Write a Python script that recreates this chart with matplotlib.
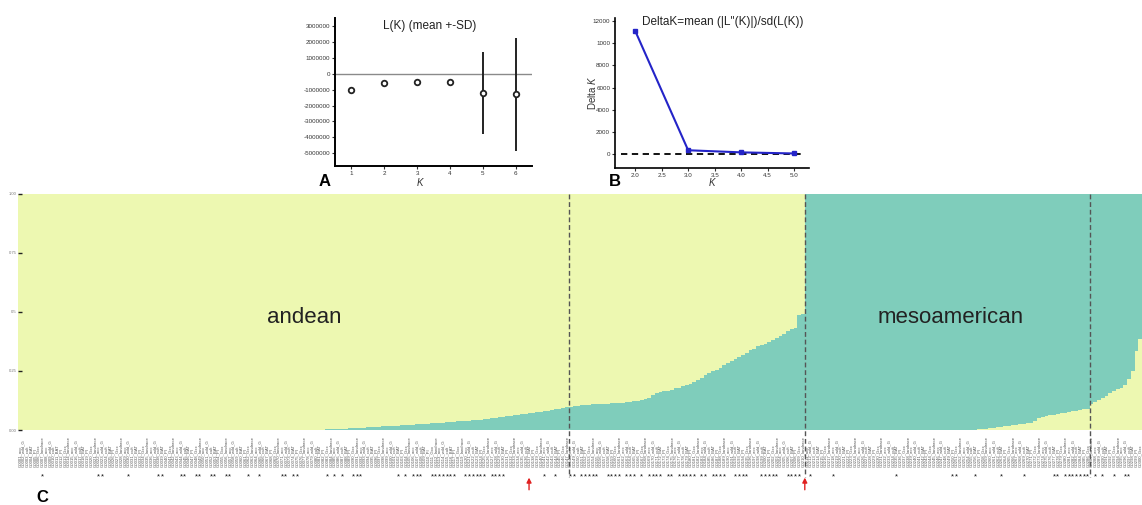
import matplotlib
matplotlib.use("Agg")
import matplotlib.pyplot as plt
import numpy as np

plt.rcParams['font.family'] = ['Liberation Sans', 'DejaVu Sans']
plt.rcParams['mathtext.fontset'] = 'custom'
plt.rcParams['mathtext.it'] = 'Liberation Sans:italic'
plt.rcParams['mathtext.rm'] = 'Liberation Sans'

# --- panel A: L(K) mean +- SD
k_a = [1, 2, 3, 4, 5, 6]
lk_mean = [-1.00e6, -0.59e6, -0.55e6, -0.50e6, -1.21e6, -1.30e6]
lk_sd = [0.02e6, 0.02e6, 0.02e6, 0.02e6, 2.57e6, 3.54e6]
lk_ticks = [-5e6, -4e6, -3e6, -2e6, -1e6, 0, 1e6, 2e6, 3e6]

# --- panel B: Delta K
k_b = [2.0, 3.0, 4.0, 5.0]
delta_k = [11120, 340, 150, 50]
dk_ticks = [0, 2000, 4000, 6000, 8000, 10000, 12000]
dk_ticklabels = ['0', '2000', '4000', '6000', '8000', '1000', '12000']
kb_ticks = [2.0, 2.5, 3.0, 3.5, 4.0, 4.5, 5.0]

# --- panel C: STRUCTURE K=2 memberships
# andean groups: mesoamerican share (bottom, teal)
andean_1 = [0.0] * 78 + [
    0.001, 0.001, 0.002, 0.002, 0.003, 0.004, 0.004, 0.005, 0.006, 0.006,
    0.007, 0.008, 0.008, 0.009, 0.010, 0.011, 0.012, 0.013, 0.014,
    0.015, 0.016, 0.017, 0.018, 0.019, 0.020, 0.021, 0.022, 0.023, 0.024,
    0.025, 0.026, 0.027, 0.028, 0.029, 0.030, 0.031, 0.033, 0.035,
    0.036, 0.037, 0.038, 0.039, 0.040, 0.041, 0.042, 0.043, 0.045, 0.047, 0.050,
    0.052, 0.054, 0.056, 0.058, 0.060, 0.062, 0.064, 0.066, 0.068, 0.070,
    0.072, 0.075, 0.078,
    0.080, 0.082, 0.084, 0.087, 0.090, 0.094, 0.098]
andean_2 = [
    0.099, 0.101, 0.103, 0.106,
    0.107, 0.108, 0.109, 0.110, 0.110, 0.111, 0.112, 0.113, 0.114, 0.115,
    0.116, 0.118, 0.120,
    0.122, 0.124, 0.127, 0.130, 0.134,
    0.148, 0.155, 0.162,
    0.164, 0.166, 0.170, 0.176, 0.180, 0.185, 0.190,
    0.196, 0.205, 0.212, 0.222, 0.232, 0.240, 0.248,
    0.255, 0.262, 0.275, 0.285, 0.293, 0.300,
    0.310, 0.318, 0.328, 0.337, 0.345, 0.354,
    0.360, 0.366, 0.372, 0.380, 0.390,
    0.398, 0.408, 0.420, 0.428, 0.434,
    0.487, 0.492]
# mesoamerican groups: andean share (bottom, yellow)
meso_1 = [0.0] * 45 + [
    0.002, 0.003, 0.005, 0.006, 0.008, 0.010, 0.012, 0.014,
    0.016, 0.018, 0.020, 0.022, 0.024, 0.026, 0.028, 0.031,
    0.040, 0.050, 0.057,
    0.060, 0.062, 0.065, 0.068, 0.070,
    0.073, 0.076, 0.079, 0.082, 0.085, 0.088, 0.091]
meso_2 = [0.112, 0.120, 0.128, 0.135, 0.145, 0.158, 0.165,
          0.172, 0.180, 0.190, 0.215, 0.250, 0.335, 0.385]

starred = [6, 21, 22, 29, 37, 38, 43, 44, 47, 48, 51, 52, 55, 56, 61, 64,
           70, 71, 73, 74, 82, 84, 86, 89, 90, 91, 101, 103, 105, 106, 107,
           110, 111, 112, 113, 114, 115, 116, 119, 120, 121, 122, 123, 124,
           126, 127, 128, 129, 140, 143, 147, 148, 150, 151, 152, 153, 154,
           157, 158, 159, 160, 162, 163, 164, 166, 168, 169, 170, 171, 173,
           174, 176, 177, 178, 179, 180, 182, 183, 185, 186, 187, 188, 191,
           192, 193, 194, 198, 199, 200, 201, 202, 205, 206, 207, 208, 211,
           217, 234, 249, 250, 255, 262, 268, 276, 277, 279, 280, 281, 282,
           283, 284, 285, 287, 289, 292, 295, 296]
arrow_at = [136.4, 210.0]
name_suffix = ['_landrace', '_acc', '_wild_G', '_cult', '_BAT', '_PI', '_Gxx']

YELLOW = '#EDF8B1'
TEAL = '#7FCDBB'

fig = plt.figure(figsize=(11.42, 5.05), dpi=100)
W, H = 1142, 505

def px_axes(l, t, r, b):
    return fig.add_axes([l / W, 1 - b / H, (r - l) / W, (b - t) / H])

# ---------- panel A
axa = px_axes(335, 18, 532, 166)
axa.axhline(0, color='#8a8a8a', lw=1.0)
axa.errorbar(k_a, lk_mean, yerr=lk_sd, fmt='o', ms=4, mfc='white', mec='#222',
             mew=1.3, ecolor='#222', elinewidth=1.4, capsize=0)
axa.set_xlim(0.5, 6.5)
axa.set_ylim(-5.8e6, 3.5e6)
axa.set_yticks(lk_ticks)
axa.set_yticklabels([f"{int(v)}" for v in lk_ticks])
axa.set_xticks(k_a)
for s in ['top', 'right']:
    axa.spines[s].set_visible(False)
for s in ['left', 'bottom']:
    axa.spines[s].set_linewidth(1.4)
axa.tick_params(labelsize=4.5, length=2, width=0.8, pad=1.5, colors='#333')
axa.text(0.48, 0.945, 'L(K) (mean +-SD)', transform=axa.transAxes,
         ha='center', va='center', fontsize=8.5, color='#222')
fig.text(420 / W, 1 - 183 / H, 'K', style='italic', fontsize=7, ha='center', va='center', color='#333')
fig.text(325 / W, 1 - 181 / H, 'A', fontweight='bold', fontsize=12, ha='center', va='center')

# ---------- panel B
axb = px_axes(615, 18, 809, 168)
axb.axhline(0, xmin=0.03, xmax=0.97, color='black', lw=1.3, ls=(0, (3.5, 2.5)))
axb.plot(k_b, delta_k, color='#2424C8', lw=1.5, marker='s', ms=2.5)
axb.set_xlim(1.62, 5.28)
axb.set_ylim(-1260, 12270)
axb.set_yticks(dk_ticks)
axb.set_yticklabels(dk_ticklabels)
axb.set_xticks(kb_ticks)
axb.set_xticklabels([f"{v:.1f}" for v in kb_ticks])
for s in ['top', 'right']:
    axb.spines[s].set_visible(False)
for s in ['left', 'bottom']:
    axb.spines[s].set_linewidth(1.2)
axb.tick_params(labelsize=4.5, length=2, width=0.8, pad=1.5, colors='#333')
axb.text(0.555, 0.975, "DeltaK=mean (|L''(K)|)/sd(L(K))", transform=axb.transAxes,
         ha='center', va='center', fontsize=8.5, color='#222')
fig.text(592 / W, 1 - 93 / H, r'Delta $K$', rotation=90, fontsize=7, ha='center', va='center', color='#333')
fig.text(712 / W, 1 - 183 / H, 'K', style='italic', fontsize=7, ha='center', va='center', color='#333')
fig.text(615 / W, 1 - 181 / H, 'B', fontweight='bold', fontsize=12, ha='center', va='center')

# ---------- panel C
axc = px_axes(18, 194, 1142, 430)
groups = [(andean_1 + andean_2, TEAL, YELLOW), (meso_1 + meso_2, YELLOW, TEAL)]
start = 0
for vals, low, high in groups:
    edges = np.arange(start, start + len(vals) + 1)
    axc.stairs(np.ones(len(vals)), edges, fill=True, color=high, lw=0)
    axc.stairs(vals, edges, fill=True, color=low, lw=0)
    start += len(vals)
n = start
bounds = [len(andean_1), len(andean_1) + len(andean_2),
          len(andean_1) + len(andean_2) + len(meso_1)]
for b in bounds:
    axc.plot([b, b], [1.0, -0.2], color='#555', lw=1.0, ls=(0, (3.5, 2)), clip_on=False, zorder=3)
axc.set_xlim(0, n)
axc.set_ylim(0, 1)
for s in axc.spines.values():
    s.set_visible(False)
axc.set_xticks([])
axc.set_yticks([0, 0.25, 0.5, 0.75, 1.0])
axc.set_yticklabels(['0.00', '0.25', '0.5', '0.75', '1.00'])
axc.tick_params(axis='y', direction='in', length=3, width=1, labelsize=3,
                pad=1, labelcolor='#777', color='#222')

axc.text(76.3, 0.475, 'andean', fontsize=16, ha='center', va='center', color='#222')
axc.text(249, 0.475, 'mesoamerican', fontsize=16, ha='center', va='center', color='#222')

sample_names = [f"G{i:04d}{name_suffix[i % len(name_suffix)]}" for i in range(1, n + 1)]
for i, name in enumerate(sample_names):
    axc.text(i + 0.5, -0.157, name, rotation=90, ha='center', va='bottom',
             fontsize=3.1, color='#555', clip_on=False)
for i in starred:
    axc.text(i + 0.5, -0.2, '*', ha='center', va='center', fontsize=5.5, color='#111', clip_on=False)
for xa in arrow_at:
    axc.annotate('', xy=(xa, -0.19), xytext=(xa, -0.265), annotation_clip=False,
                 arrowprops=dict(arrowstyle='-|>', color='#E02020', lw=1.0, mutation_scale=7))

fig.text(42 / W, 1 - 497 / H, 'C', fontweight='bold', fontsize=12, ha='center', va='center')

fig.savefig('out.png', dpi=100, facecolor='white')
